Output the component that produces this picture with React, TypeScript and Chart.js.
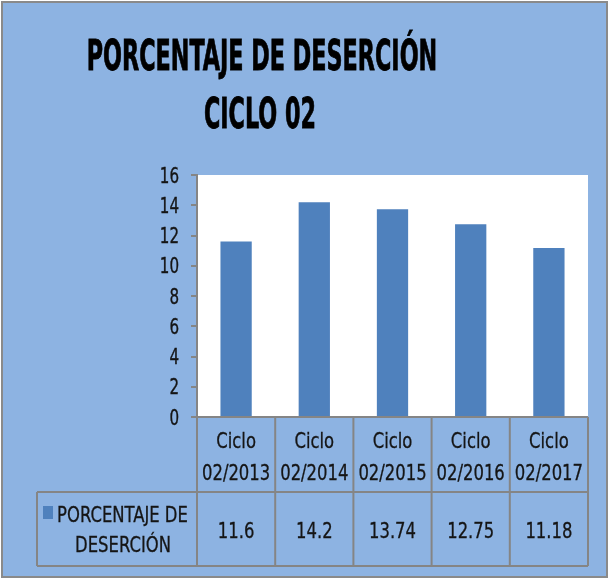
import React, { useEffect, useRef } from "react";
import { Chart, registerables } from "chart.js";

Chart.register(...registerables);

const categoriesTop = ["Ciclo", "Ciclo", "Ciclo", "Ciclo", "Ciclo"];
const categoriesBottom = ["02/2013", "02/2014", "02/2015", "02/2016", "02/2017"];
const values = [11.6, 14.2, 13.74, 12.75, 11.18];
const valueLabels = ["11.6", "14.2", "13.74", "12.75", "11.18"];
const titleLines = ["PORCENTAJE DE DESERCIÓN", "CICLO 02"];
const seriesNameLines = ["PORCENTAJE DE", "DESERCIÓN"];
const yTicks = { min: 0, max: 16, step: 2 };

const FONT = "'DejaVu Sans Condensed', 'DejaVu Sans', sans-serif";
const BG = "#8DB3E2";
const BAR = "#4F81BD";
const LINE = "#858585";
const TEXT = "#151515";

function drawNarrow(ctx: CanvasRenderingContext2D, text: string, x: number, y: number, sx: number, weight = 0) {
  ctx.save();
  ctx.translate(x, y);
  ctx.scale(sx, 1);
  ctx.fillText(text, 0, 0);
  if (weight > 0) {
    ctx.lineWidth = weight;
    ctx.strokeStyle = ctx.fillStyle as string;
    ctx.strokeText(text, 0, 0);
  }
  ctx.restore();
}

const decorPlugin = {
  id: "decor",
  beforeDraw(chart: any) {
    const { ctx, chartArea } = chart;
    ctx.save();
    ctx.fillStyle = "#ffffff";
    ctx.fillRect(0, 0, chart.width, chart.height);
    ctx.fillStyle = BG;
    ctx.fillRect(2, 2, 605, 575);
    ctx.strokeStyle = "#8a8a8a";
    ctx.lineWidth = 2;
    ctx.strokeRect(2, 2, 605, 575);
    ctx.fillStyle = "#ffffff";
    ctx.fillRect(chartArea.left, chartArea.top, chartArea.right - chartArea.left, chartArea.bottom - chartArea.top);
    ctx.restore();
  },
  afterDraw(chart: any) {
    const { ctx, chartArea } = chart;
    const xScale = chart.scales.x;
    const yScale = chart.scales.y;
    ctx.save();
    ctx.textBaseline = "alphabetic";

    // Title
    ctx.fillStyle = "#000000";
    ctx.textAlign = "center";
    ctx.font = `bold 42px ${FONT}`;
    drawNarrow(ctx, titleLines[0], 262, 70, 0.59, 0.8);
    drawNarrow(ctx, titleLines[1], 260, 128, 0.59, 0.8);

    // Y tick labels
    ctx.fillStyle = TEXT;
    ctx.textAlign = "right";
    ctx.font = `21px ${FONT}`;
    for (const t of yScale.ticks) {
      const y = yScale.getPixelForValue(t.value);
      drawNarrow(ctx, String(t.value), 179, y + 7.7, 0.8, 0.35);
    }

    // Table
    const top = chartArea.bottom;
    const mid = 492;
    const bot = 566;
    const left = 37;
    const n = values.length;
    const step = (chartArea.right - chartArea.left) / n;
    ctx.strokeStyle = LINE;
    ctx.lineWidth = 2;
    ctx.beginPath();
    ctx.moveTo(chartArea.left - 6, top);
    ctx.lineTo(chartArea.right, top);
    ctx.moveTo(left, mid);
    ctx.lineTo(chartArea.right, mid);
    ctx.moveTo(left, bot);
    ctx.lineTo(chartArea.right, bot);
    ctx.moveTo(left, mid);
    ctx.lineTo(left, bot);
    for (let i = 0; i <= n; i++) {
      const x = chartArea.left + step * i;
      ctx.moveTo(x, top);
      ctx.lineTo(x, bot);
    }
    ctx.stroke();

    ctx.fillStyle = TEXT;
    ctx.textAlign = "center";
    ctx.font = `22px ${FONT}`;
    const sx = 0.83;
    for (let i = 0; i < n; i++) {
      const cx = xScale.getPixelForValue(i);
      drawNarrow(ctx, categoriesTop[i], cx, 447.5, sx, 0.3);
      drawNarrow(ctx, categoriesBottom[i], cx, 480, sx, 0.3);
      drawNarrow(ctx, valueLabels[i], cx, 537.5, sx, 0.3);
    }
    // Series name with key
    ctx.fillStyle = BAR;
    ctx.fillRect(43, 506, 10, 13);
    ctx.fillStyle = TEXT;
    drawNarrow(ctx, seriesNameLines[0], 122.5, 521.5, sx, 0.3);
    drawNarrow(ctx, seriesNameLines[1], 123, 551.5, sx, 0.3);
    ctx.restore();
  },
};

export default function App() {
  const ref = useRef<HTMLCanvasElement | null>(null);
  useEffect(() => {
    document.body.style.margin = "0";
    const canvas = ref.current;
    if (!canvas) return;
    const chart = new Chart(canvas, {
      type: "bar",
      data: {
        labels: categoriesBottom,
        datasets: [
          {
            label: seriesNameLines.join(" "),
            data: values,
            backgroundColor: BAR,
            borderWidth: 0,
            categoryPercentage: 0.4,
            barPercentage: 1,
          },
        ],
      },
      options: {
        responsive: false,
        animation: false,
        devicePixelRatio: 1,
        layout: { padding: { left: 0, top: 175, right: 21, bottom: 162 } },
        plugins: {
          legend: { display: false },
          title: { display: false },
          tooltip: { enabled: false },
        },
        scales: {
          x: { display: false },
          y: {
            min: yTicks.min,
            max: yTicks.max,
            afterFit: (scale: any) => {
              scale.width = 197;
            },
            ticks: {
              stepSize: yTicks.step,
              display: false,
            },
            grid: {
              drawOnChartArea: false,
              drawTicks: true,
              tickLength: 6,
              color: LINE,
              lineWidth: 2,
            },
            border: { display: true, color: LINE, width: 2 },
          },
        },
      },
      plugins: [decorPlugin],
    });
    return () => chart.destroy();
  }, []);
  return <canvas ref={ref} width={609} height={579} style={{ display: "block" }} />;
}
